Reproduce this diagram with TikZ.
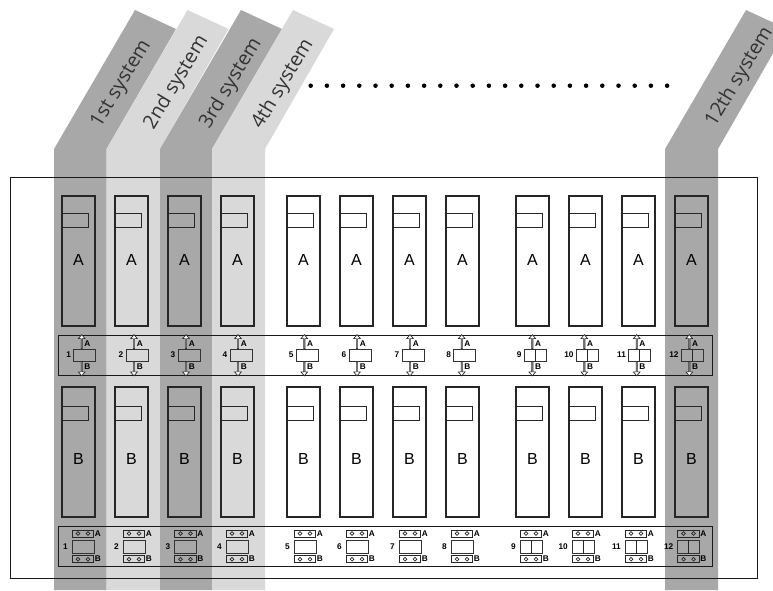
\documentclass[tikz,border=0pt]{standalone}
\usepackage{fontspec}
\usetikzlibrary{shapes.arrows}
\setmainfont{Liberation Sans}
\newfontfamily\labelfont{Open Sans}
\definecolor{bandA}{gray}{0.66}
\definecolor{bandB}{gray}{0.85}
\tikzset{
  unitbox/.style={draw=black!85,line width=0.8pt,minimum width=24.75pt,minimum height=97.5pt,inner sep=0pt},
  slotbox/.style={draw=black!85,line width=0.6pt,minimum width=20pt,minimum height=11pt,inner sep=0pt},
  sysbox/.style={draw=black!90,line width=0.7pt},
  sw/.style={draw=black!80,line width=0.7pt,minimum width=16.5pt,minimum height=9.5pt,inner sep=0pt},
  tiny/.style={font=\fontsize{6.2}{6}\selectfont\bfseries,inner sep=0pt},
  conn/.style={draw=black!85,line width=0.6pt,minimum width=16pt,minimum height=5.3pt,inner sep=0pt},
  face/.style={draw=black!80,line width=0.7pt,minimum width=16.5pt,minimum height=9.8pt,inner sep=0pt},
  updown/.style={draw=black!85,line width=0.5pt,fill=white,single arrow,single arrow head extend=1.1pt,single arrow tip angle=80,minimum height=10.5pt,minimum width=5pt,inner sep=0pt},
  hole/.style={circle,draw=black!85,line width=0.45pt,minimum size=2.8pt,inner sep=0pt},
  syslabel/.style={font=\labelfont\fontsize{14.8}{16}\selectfont,text=black!80,rotate=59,inner sep=0pt},
  dotnode/.style={circle,fill=black,minimum size=3.4pt,inner sep=0pt},
  unitletter/.style={font=\fontsize{12}{12}\selectfont,inner sep=0pt}
}
\begin{document}
\begin{tikzpicture}[x=0.75pt,y=-0.75pt]
\useasboundingbox (0,0) rectangle (773,590);
\newcommand{\sysband}[3]{%
  \fill[#3] (#1,590) -- (#1,149) -- ({#1+81},10) -- ({#1+122},29) -- (#2,149) -- (#2,590) -- cycle;}
\begin{scope}
\clip (0,0) rectangle (773,590);
\sysband{54}{106.5}{bandA}
\sysband{106.5}{160}{bandB}
\sysband{160}{212}{bandA}
\sysband{212}{265}{bandB}
\sysband{665}{718}{bandA}
\end{scope}
\node[syslabel] (s12) at (739.5,77) {12th system};
\node[syslabel] (s1) at (121.5,84) {1st system};
\node[syslabel] (s2) at (176.5,82.5) {2nd system};
\node[syslabel] (s3) at (231,83.5) {3rd system};
\node[syslabel] (s4) at (283,84) {4th system};
\foreach \i in {0,...,22} \node[dotnode] (d\i) at ({310.7+\i*16.2},85.7) {};
\draw[sysbox] (10,177) rectangle (757.5,578);
\draw[sysbox] (58,335) rectangle (712.7,375);
\draw[sysbox] (58,526.7) rectangle (712.7,566.7);
\foreach \n/\x/\ax/\bx/\dbl in {1/78.5/81.7/83/0,2/131.5/134/134/0,3/184.5/186/185.5/0,4/237.5/238/237/0,5/303.5/304.3/305/0,6/356.5/357/357/0,7/409.5/410/410/0,8/462.5/461.7/462/0,9/532.5/532.3/531/1,10/585.5/584.3/583/1,11/638.5/636.7/636/1,12/691.5/689.3/688.5/1}{
  % upper and lower units
  \node[unitbox] (ua\n) at (\x,261) {};
  \node[unitletter] (la\n) at (\x,260) {A};
  \node[slotbox] (sa\n) at (\x-3.5,220.5) {};
  \node[unitbox] (ub\n) at (\x,452) {};
  \node[unitletter] (lb\n) at (\x,459) {B};
  \node[slotbox] (sb\n) at (\x-3.5,413.5) {};
  % middle row
  \node[updown,shape border rotate=90] (up\n) at (\ax,342) {};
  \node[updown,shape border rotate=270] (dn\n) at (\ax,368.5) {};
  \node[sw] (m\n) at (\ax+3,355.3) {};
  \node[tiny,anchor=west] (ma\n) at (\ax+2.5,344) {A};
  \node[tiny,anchor=west] (mb\n) at (\ax+2.5,367) {B};
  \node[tiny,anchor=east] (mn\n) at (\ax-10.5,355) {\n};
  \ifnum\dbl=1 \draw[line width=0.6pt,draw=black!85] (m\n.north) -- (m\n.south); \fi
  % bottom row
  \node[conn] (ca\n) at (\bx,533.5) {};
  \node[conn] (cb\n) at (\bx,559.2) {};
  \node[face] (f\n) at (\bx,546.5) {};
  \ifnum\dbl=1 \draw[line width=0.6pt,draw=black!85] (f\n.north) -- (f\n.south); \fi
  \node[hole] (ha\n) at (\bx-5,533.5) {};
  \node[hole] (hb\n) at (\bx+5,533.5) {};
  \node[hole] (hc\n) at (\bx-5,559.2) {};
  \node[hole] (hd\n) at (\bx+5,559.2) {};
  \node[tiny,anchor=west] (ba\n) at (\bx+11.5,534) {A};
  \node[tiny,anchor=west] (bb\n) at (\bx+11.5,559) {B};
  \node[tiny,anchor=east] (bn\n) at (\bx-15,546.5) {\n};
}
\end{tikzpicture}
\end{document}
